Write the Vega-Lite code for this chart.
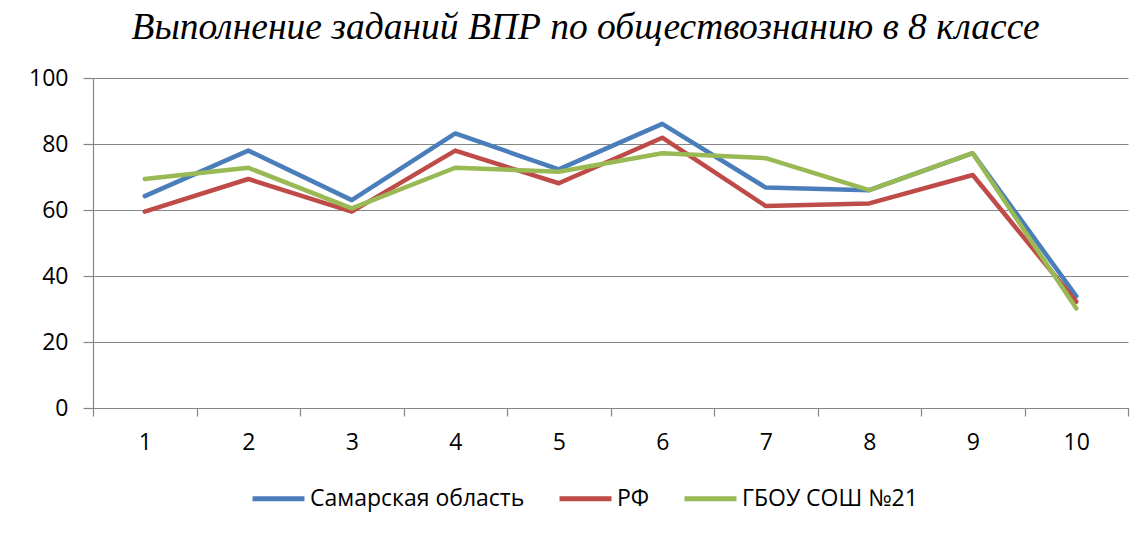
{
  "$schema": "https://vega.github.io/schema/vega-lite/v6.json",
  "width": 1035,
  "height": 330,
  "autosize": {"type": "none"},
  "padding": {"left": 93, "top": 78, "right": 17, "bottom": 126},
  "background": "white",
  "title": {
    "text": "Выполнение заданий ВПР по обществознанию в 8 классе",
    "font": "Liberation Serif",
    "fontStyle": "italic",
    "fontWeight": "normal",
    "fontSize": 37.5,
    "color": "black",
    "anchor": "middle",
    "frame": "group",
    "baseline": "alphabetic",
    "dx": -25,
    "offset": -9
  },
  "data": {
    "values": [
      {"task": 1, "series": "Самарская область", "value": 64.2},
      {"task": 2, "series": "Самарская область", "value": 78.0},
      {"task": 3, "series": "Самарская область", "value": 63.0},
      {"task": 4, "series": "Самарская область", "value": 83.2},
      {"task": 5, "series": "Самарская область", "value": 72.3},
      {"task": 6, "series": "Самарская область", "value": 86.1},
      {"task": 7, "series": "Самарская область", "value": 66.8},
      {"task": 8, "series": "Самарская область", "value": 66.0},
      {"task": 9, "series": "Самарская область", "value": 77.2},
      {"task": 10, "series": "Самарская область", "value": 33.9},
      {"task": 1, "series": "РФ", "value": 59.5},
      {"task": 2, "series": "РФ", "value": 69.4},
      {"task": 3, "series": "РФ", "value": 59.5},
      {"task": 4, "series": "РФ", "value": 78.0},
      {"task": 5, "series": "РФ", "value": 68.1},
      {"task": 6, "series": "РФ", "value": 81.9},
      {"task": 7, "series": "РФ", "value": 61.2},
      {"task": 8, "series": "РФ", "value": 62.0},
      {"task": 9, "series": "РФ", "value": 70.6},
      {"task": 10, "series": "РФ", "value": 32.2},
      {"task": 1, "series": "ГБОУ СОШ №21", "value": 69.4},
      {"task": 2, "series": "ГБОУ СОШ №21", "value": 72.8},
      {"task": 3, "series": "ГБОУ СОШ №21", "value": 60.5},
      {"task": 4, "series": "ГБОУ СОШ №21", "value": 72.8},
      {"task": 5, "series": "ГБОУ СОШ №21", "value": 71.6},
      {"task": 6, "series": "ГБОУ СОШ №21", "value": 77.2},
      {"task": 7, "series": "ГБОУ СОШ №21", "value": 75.7},
      {"task": 8, "series": "ГБОУ СОШ №21", "value": 66.0},
      {"task": 9, "series": "ГБОУ СОШ №21", "value": 77.2},
      {"task": 10, "series": "ГБОУ СОШ №21", "value": 30.2}
    ]
  },
  "mark": {"type": "line", "strokeWidth": 4.5, "strokeJoin": "round", "strokeCap": "round"},
  "encoding": {
    "x": {
      "field": "task",
      "type": "ordinal",
      "bandPosition": 0.5,
      "scale": {"type": "band", "paddingInner": 0, "paddingOuter": 0},
      "axis": {
        "title": null,
        "labelAngle": 0,
        "tickBand": "extent",
        "grid": false,
        "labelFont": "Open Sans",
        "labelFontSize": 23,
        "labelColor": "black",
        "labelPadding": 15,
        "tickSize": 8,
        "tickColor": "#868686",
        "domainColor": "#868686",
        "domainWidth": 1.2,
        "tickWidth": 1.2
      }
    },
    "y": {
      "field": "value",
      "type": "quantitative",
      "scale": {"domain": [0, 100], "nice": false},
      "axis": {
        "title": null,
        "values": [0, 20, 40, 60, 80, 100],
        "labelFont": "Open Sans",
        "labelFontSize": 23,
        "labelColor": "black",
        "labelPadding": 15,
        "tickSize": 10,
        "tickColor": "#868686",
        "domainColor": "#868686",
        "domainWidth": 1.2,
        "tickWidth": 1.2,
        "gridColor": "#868686",
        "gridWidth": 1.2
      }
    },
    "color": {
      "field": "series",
      "type": "nominal",
      "sort": ["Самарская область", "РФ", "ГБОУ СОШ №21"],
      "scale": {
        "domain": ["Самарская область", "РФ", "ГБОУ СОШ №21"],
        "range": ["#4A7EBB", "#BE4B48", "#98B954"]
      },
      "legend": {
        "orient": "none",
        "legendX": 157,
        "legendY": 392,
        "direction": "horizontal",
        "title": null,
        "symbolType": "stroke",
        "symbolStrokeWidth": 5,
        "symbolSize": 2700,
        "labelFont": "Open Sans",
        "labelFontSize": 23,
        "labelColor": "black",
        "labelOffset": 3,
        "labelLimit": 400,
        "columnPadding": 24,
        "padding": 0
      }
    }
  },
  "config": {"view": {"stroke": null}}
}
